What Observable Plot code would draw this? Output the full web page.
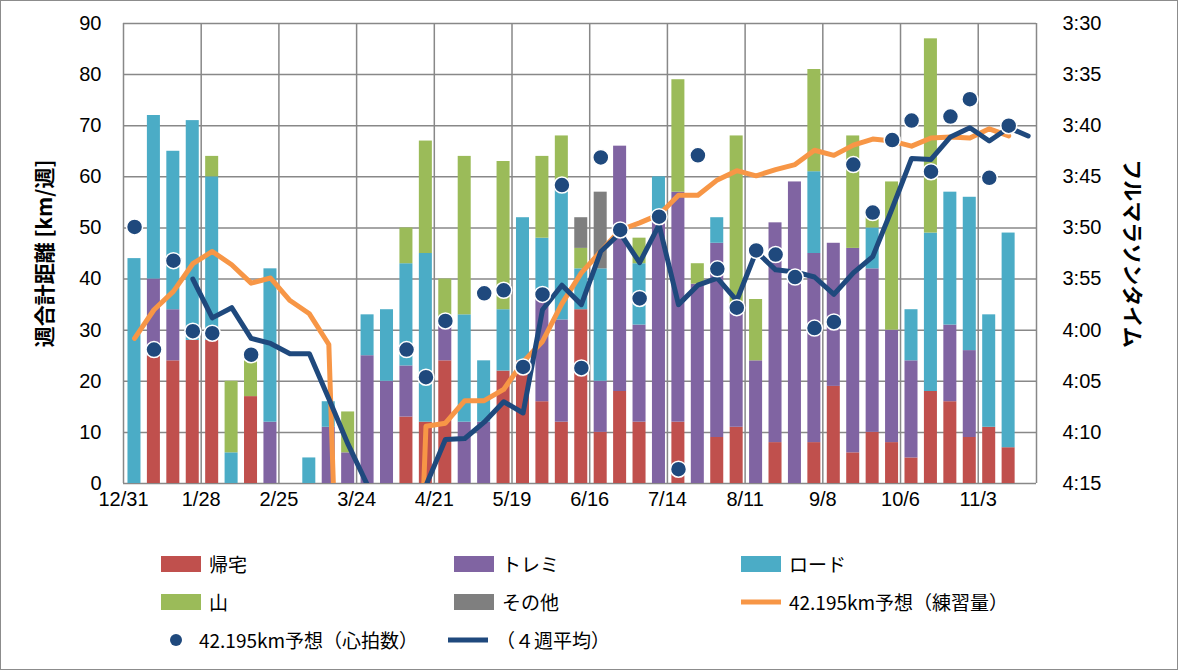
<!DOCTYPE html>
<html><head><meta charset="utf-8">
<script src="https://cdn.jsdelivr.net/npm/d3@7"></script>
<script src="https://cdn.jsdelivr.net/npm/@observablehq/plot@0.6"></script>
<style>
body{margin:0;background:#fff;font-family:"Noto Sans CJK JP","Liberation Sans",sans-serif;}
#wrap{position:relative;width:1176px;height:668px;border:1px solid #8c8c8c;overflow:hidden}
#legend{position:absolute;left:0;top:540px;width:1176px;font-size:19px;color:#000}
.li{position:absolute;display:flex;align-items:center;gap:8px;white-space:nowrap}
.sw{width:62px;height:16px;display:inline-block}
</style></head><body>
<div id="wrap"><div id="chart"></div><div id="legend"></div></div>
<script>
const tickLabels = ["12/31","1/28","2/25","3/24","4/21","5/19","6/16","7/14","8/11","9/8","10/6","11/3"];
// weekly distance components (km) per week, weeks 0..45
const kitaku = [0,25,24,28,28,0,17,0,0,0,0,0,0,0,13,12,24,0,0,22,24,16,12,34,10,18,12,0,12,0,9,11,0,8,0,8,19,6,10,8,5,18,16,9,11,7];
const toremi = [0,15,10,0,0,0,0,12,0,0,11,6,25,20,10,0,8,12,12,0,0,20,20,0,10,48,19,52,45,39,38,23,24,43,59,37,28,40,32,22,19,0,15,17,0,0];
const road   = [44,32,31,43,32,6,0,30,0,5,5,0,8,14,20,33,0,21,12,12,28,12,27,8,22,0,12,8,0,0,5,0,0,0,0,16,0,0,8,0,10,31,26,30,22,42];
const yama   = [0,0,0,0,4,14,7,0,0,0,0,8,0,0,7,22,8,31,0,29,0,16,9,4,0,0,5,0,22,4,0,34,12,0,0,20,0,22,2,29,0,38,0,0,0,0];
const sonota = [0,0,0,0,0,0,0,0,0,0,0,0,0,0,0,0,0,0,0,0,0,0,0,6,15,0,0,0,0,0,0,0,0,0,0,0,0,0,0,0,0,0,0,0,0,0];
// marathon time predictions (minutes)
const yosouRenshu = [240.8,238.0,236.2,233.5,232.3,233.6,235.4,234.9,237.1,238.4,241.4,300,300,300,300,249.4,249.1,246.9,246.9,245.8,243.1,241.1,237.4,234.4,232.3,230.2,229.5,228.7,226.8,226.8,225.3,224.4,224.9,224.3,223.8,222.4,222.9,221.9,221.3,221.5,222.0,221.2,221.1,221.2,220.3,221.0];
const yosouHR = [229.9,241.9,233.2,240.1,240.3,null,242.4,null,null,null,null,null,null,null,241.9,244.6,239.1,null,236.4,236.1,243.6,236.5,225.8,243.7,223.1,230.2,236.9,228.9,253.6,222.9,234.0,237.8,232.2,232.6,234.8,239.8,239.2,223.8,228.5,221.4,219.5,224.5,219.1,217.4,225.1,220.0];
const heikin4 = [null,null,null,235.0,238.8,237.8,240.8,241.3,242.3,242.3,246.7,251.2,255.2,300,300,255.2,250.7,250.6,249.0,247.0,248.1,238.0,235.6,237.5,232.3,230.5,233.4,229.7,237.5,235.6,234.9,237.1,232.3,234.1,234.3,234.8,236.5,234.4,232.8,228.1,223.2,223.3,221.1,220.2,221.5,220.2,221.0];
const rightTicks = [210,215,220,225,230,235,240,245,250,255];

const cats = [["帰宅",kitaku,"#C0504D"],["トレミ",toremi,"#8064A2"],["ロード",road,"#4BACC6"],["山",yama,"#9BBB59"],["その他",sonota,"#7F7F7F"]];
const bars = [];
kitaku.forEach((_,i)=>cats.forEach(([c,arr])=>bars.push({i,c,v:arr[i]})));
const toKm = t => (255 - t) * 2;
const fmtT = t => `${Math.floor(t/60)}:${String(t%60).padStart(2,"0")}`;
const line = (arr) => arr.map((t,i)=>({x:i+0.57,y:t==null?null:toKm(t)}));

const chart = Plot.plot({
  width:1176, height:515, marginLeft:122, marginRight:141, marginTop:22, marginBottom:33,
  style:{fontSize:"20px", fontFamily:"'Liberation Sans',sans-serif", color:"#000"},
  x:{domain:[0,47], axis:null},
  y:{domain:[0,90], axis:null},
  color:{domain:cats.map(d=>d[0]), range:cats.map(d=>d[2])},
  marks:[
    Plot.gridY({ticks:d3.range(0,91,10), stroke:"#888", strokeOpacity:1, strokeWidth:1.5}),
    Plot.ruleX([0,4,8,12,16,20,24,28,32,36,40,44,47], {stroke:"#888", strokeWidth:1.5}),
    Plot.rectY(bars, {x1:d=>d.i+0.23, x2:d=>d.i+0.9, y:"v", fill:"c", order:cats.map(d=>d[0])}),
    Plot.line(line(yosouRenshu).filter(d=>d.y!=null), {x:"x", y:"y", stroke:"#F79646", strokeWidth:5, clip:true}),
    Plot.line(line(heikin4), {x:"x", y:"y", stroke:"#1F497D", strokeWidth:5, clip:true, defined:d=>d.y!=null}),
    Plot.dot(line(yosouHR).filter(d=>d.y!=null), {x:"x", y:"y", r:8, fill:"#1F497D", stroke:"#fff", strokeWidth:1.5}),
    Plot.axisY({ticks:d3.range(0,91,10), anchor:"left", tickSize:0, tickPadding:22, label:null}),
    Plot.axisY(rightTicks.map(toKm), {anchor:"right", tickSize:0, tickPadding:26, tickFormat:k=>fmtT(255-k/2), label:null}),
    Plot.axisX(tickLabels.map((_,j)=>j*4), {anchor:"bottom", tickSize:0, tickPadding:8, tickFormat:(d)=>tickLabels[d/4], label:null}),
    Plot.text(["週合計距離 [km/週]"], {frameAnchor:"left", textAnchor:"middle", dx:-78, rotate:-90, fontWeight:"bold", fontSize:21, fontFamily:"'Noto Sans CJK JP'"}),
    Plot.text(["フルマラソンタイム"], {frameAnchor:"right", textAnchor:"middle", dx:95, rotate:90, fontWeight:"bold", fontSize:21, fontFamily:"'Noto Sans CJK JP'"})
  ]
});
document.getElementById("chart").appendChild(chart);

const legend = document.getElementById("legend");
const items = [
  [160,21,"rect","#C0504D","帰宅"],[453,21,"rect","#8064A2","トレミ"],[740,21,"rect","#4BACC6","ロード"],
  [160,59,"rect","#9BBB59","山"],[453,59,"rect","#7F7F7F","その他"],[740,59,"line","#F79646","42.195km予想（練習量）"],
  [160,97,"dot","#1F497D","42.195km予想（心拍数）"],[447,97,"line","#1F497D","（４週平均）"]
];
for(const [x,y,t,c,l] of items){
  const d=document.createElement("div"); d.className="li"; d.style.left=x+"px"; d.style.top=(y-12)+"px";
  let sw;
  if(t==="rect") sw=`<span class="sw" style="width:40px;background:${c}"></span>`;
  else if(t==="line") sw=`<svg width="40" height="16"><line x1="0" y1="8" x2="40" y2="8" stroke="${c}" stroke-width="5"/></svg>`;
  else sw=`<svg width="30" height="16"><circle cx="15" cy="8" r="6" fill="${c}"/></svg>`;
  d.innerHTML=sw+`<span>${l}</span>`; legend.appendChild(d);
}
</script></body></html>
